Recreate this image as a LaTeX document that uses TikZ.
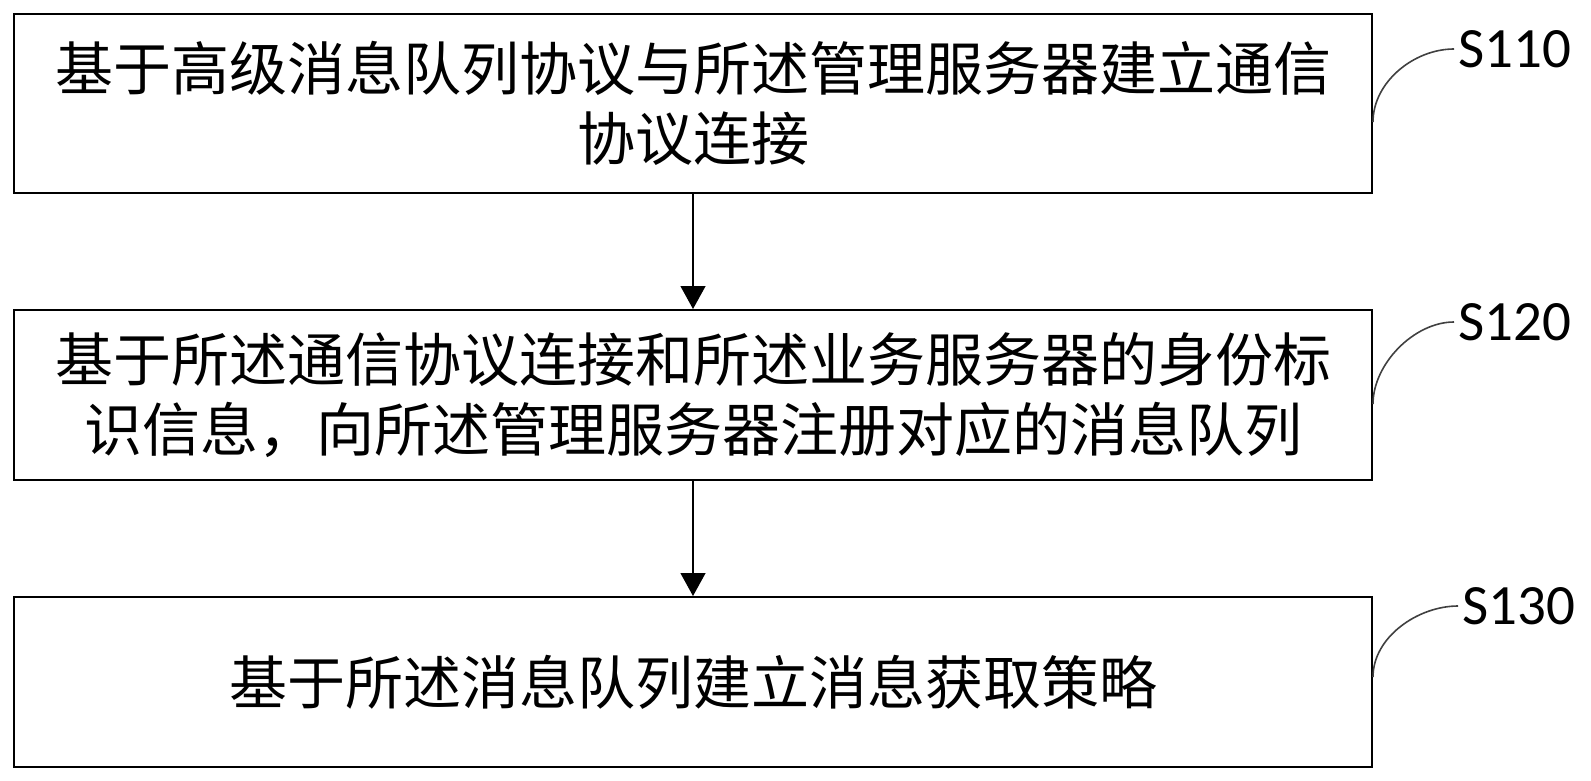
\documentclass[tikz,border=0pt]{standalone}
\usepackage{fontspec}
\setmainfont{Carlito}
\newfontfamily\cjk{Noto Sans CJK SC}
\usetikzlibrary{positioning, arrows.meta}

\begin{document}
\begin{tikzpicture}[%
		x=0.5pt, y=-0.5pt,
		node distance=57.5pt,
		stepbox/.style={
			rectangle,
			minimum width=679pt,
			minimum height=85pt,
			inner sep=0pt,
			line width=1pt,
			align=center,
			font=\cjk\fontsize{29}{35}\selectfont,
			draw
		},
		steplabel/.style={
			anchor=west,
			inner sep=2pt,
			font=\fontsize{28.5}{30}\selectfont
		},
		flowarrow/.style={
			line width=0.65pt,
			-{Triangle[width=12.5pt,length=11.5pt]}
		},
		leader/.style={
			line width=0.8pt,
			black!75
		}]

		\useasboundingbox (0,0) rectangle (1591,781);

		% STEPS

		\node (box-S110) [stepbox, minimum height=89.5pt] at (693,103.5) {基于高级消息队列协议与所述管理服务器建立通信\\协议连接};
		\node (box-S120) [stepbox, below=of box-S110] {基于所述通信协议连接和所述业务服务器的身份标\\识信息，向所述管理服务器注册对应的消息队列};
		\node (box-S130) [stepbox, below=of box-S120] {基于所述消息队列建立消息获取策略};

		% LABELS

		\node (lbl-S110) [steplabel] at (1454,49) {S110};
		\node (lbl-S120) [steplabel] at (1454,322) {S120};
		\node (lbl-S130) [steplabel] at (1458,606) {S130};

		% ARROWS

		\draw[flowarrow] (box-S110) -- (box-S120);
		\draw[flowarrow] (box-S120) -- (box-S130);

		% LEADERS

		\draw[leader] ([yshift=-9.25pt]box-S110.east) .. controls +(0,20pt) and +(-20pt,0) .. (lbl-S110.west);
		\draw[leader] ([yshift=-4.5pt]box-S120.east) .. controls +(0,20pt) and +(-20pt,0) .. (lbl-S120.west);
		\draw[leader] ([yshift=2.5pt]box-S130.east) .. controls +(0,20pt) and +(-20pt,0) .. (lbl-S130.west);
\end{tikzpicture}
\end{document}
